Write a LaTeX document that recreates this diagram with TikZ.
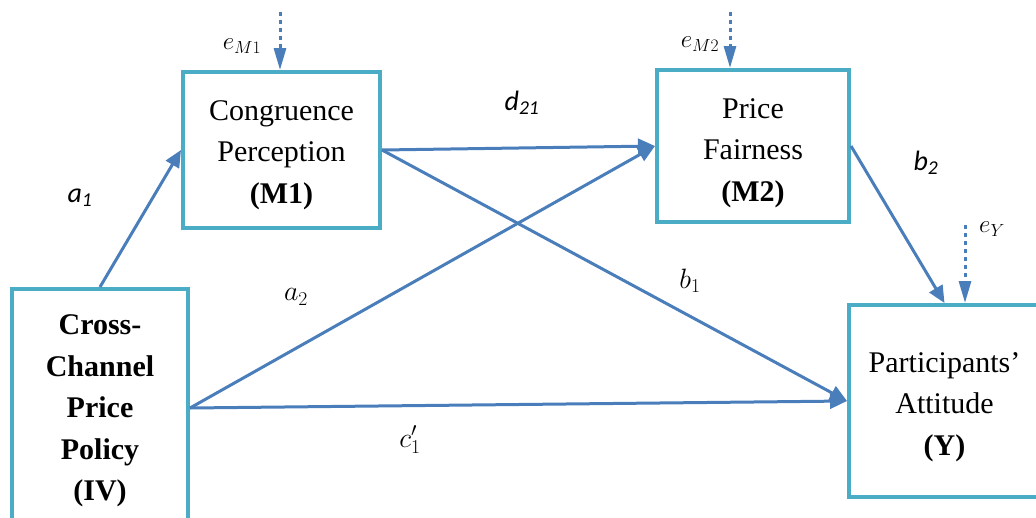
\RequirePackage{fix-cm}
\documentclass[tikz,border=0pt]{standalone}
\usepackage{fontspec}
\setmainfont{Liberation Serif}
\newfontfamily\calib{Carlito}
\usetikzlibrary{arrows.meta,calc}
\definecolor{boxteal}{HTML}{4BACC6}
\definecolor{pathblue}{HTML}{4A7EBB}

\begin{document}
\begin{tikzpicture}[x=1pt, y=-1pt,
      varbox/.style={draw=boxteal, line width=4pt, fill=white, inner sep=0pt},
      vartext/.style={align=center, inner sep=0pt, font=\fontsize{30}{41.5}\selectfont},
      effect/.style={draw=pathblue, line width=3pt, -{Triangle[length=17pt,width=15pt]}},
      errarrow/.style={draw=pathblue, line width=3pt, dash pattern=on 4pt off 4pt,
        -{Triangle[length=22pt,width=12pt]}},
      coef/.style={font=\fontsize{28}{30}\selectfont},
      errlabel/.style={font=\fontsize{25}{27}\selectfont}
    ]
    \useasboundingbox (0,0) rectangle (1036,517);
    \clip (0,0) rectangle (1036,517);

    %-----------------------------
    % 1) Variables
    %-----------------------------
    \node[varbox, minimum width=197pt, minimum height=156pt] (M1) at (281.5,150) {};
    \node[varbox, minimum width=192pt, minimum height=152pt] (M2) at (753,146) {};
    \node[varbox, minimum width=176pt, minimum height=238pt] (IV) at (100,408) {};
    \node[varbox, minimum width=191pt, minimum height=192pt] (Y) at (944.5,401) {};

    \node[vartext] (M1-text) at ([yshift=-5pt]M1.center)
      {Congruence\\Perception\\\textbf{(M1)}};
    \node[vartext] (M2-text) at ([yshift=-7pt]M2.center)
      {Price\\Fairness\\\textbf{(M2)}};
    \node[vartext] (IV-text) at ([yshift=-3pt]IV.center)
      {\textbf{Cross-}\\\textbf{Channel}\\\textbf{Price}\\\textbf{Policy}\\\textbf{(IV)}};
    \node[vartext] (Y-text) at ([yshift=-6pt]Y.center)
      {Participants’\\Attitude\\\textbf{(Y)}};

    %-----------------------------
    % 2) Paths
    %-----------------------------
    \draw[effect] (IV.north) -- (M1.west);
    \draw[effect] (M1.east) -- (M2.west);
    \draw[effect] (M1.east) -- (Y.west);
    \draw[effect] (IV.east) -- (M2.west);
    \draw[effect] (IV.east) -- (Y.west);
    \draw[effect] (M2.east) -- (Y.north);

    % path labels
    \node[coef] (a1) at (80,198) {\calib\itshape a\textsubscript{1}};
    \node[coef] (d21) at (522,103) {\calib\itshape d\textsubscript{21}};
    \node[coef] (b2) at (926,163) {\calib\itshape b\textsubscript{2}};
    \node[coef] (a2) at (296,297) {$a_2$};
    \node[coef] (b1) at (690,281) {$b_1$};
    \node[coef] (c1) at (410,440) {$c_1'$};

    %-----------------------------
    % 3) Error terms
    %-----------------------------
    \coordinate (eM1) at (280,12);
    \coordinate (eM2) at (730,12);
    \coordinate (eY) at (965,225);
    \draw[errarrow] (eM1) -- (eM1 |- M1.north);
    \draw[errarrow] (eM2) -- (eM2 |- M2.north);
    \draw[errarrow] (eY) -- (eY |- Y.north);

    \node[errlabel] (eM1-lab) at (242,46) {$e_{M1}$};
    \node[errlabel] (eM2-lab) at (700,44) {$e_{M2}$};
    \node[errlabel] (eY-lab) at (992,229) {$e_{Y}$};

  \end{tikzpicture}
\end{document}
